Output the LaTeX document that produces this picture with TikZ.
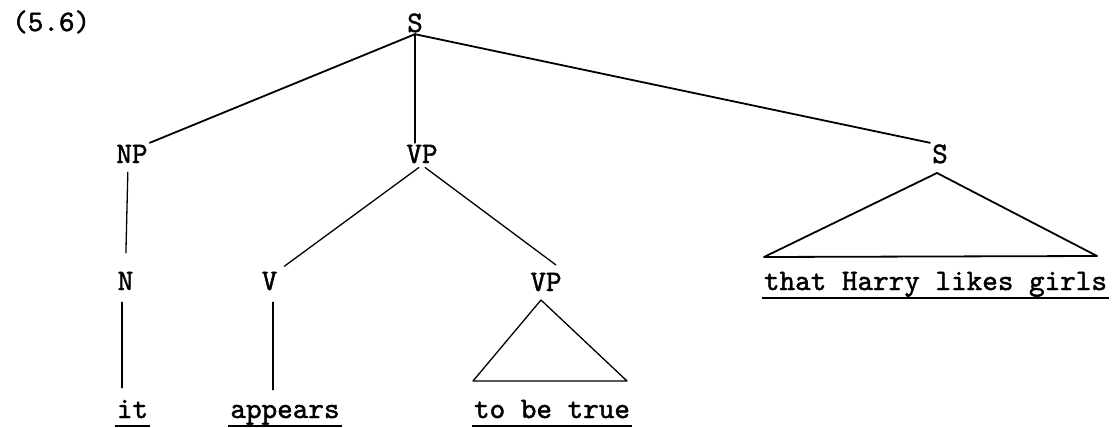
\documentclass[tikz,border=0pt]{standalone}
\usepackage{fontspec}
\newfontfamily\tw{lmmono10-regular.otf}[FakeBold=1.5]
\usetikzlibrary{calc}
\begin{document}
\begin{tikzpicture}[x=1pt,y=-1pt,
  lbl/.style={font=\tw\fontsize{29.7}{30}\selectfont, inner sep=2pt, text height=18pt, text depth=0pt, anchor=base},
  word/.style={lbl, inner ysep=0pt, text depth=8pt},
  br/.style={line width=1.8pt, line cap=round},
  thinln/.style={line width=1.3pt, line cap=round},
  ul/.style={line width=2.5pt}]
\useasboundingbox (0,0) rectangle (1112,428);
\node[lbl, anchor=base west] (num) at (10,31) {(5.6)};
\node[lbl] (S0) at (415,32) {S};
\node[lbl] (NP) at (132,163) {NP};
\node[lbl] (VP) at (422,163) {VP};
\node[lbl] (S1) at (940,163) {S};
\node[lbl] (N) at (125.5,290) {N};
\node[lbl] (V) at (269.5,290) {V};
\node[lbl] (VP2) at (546,291) {VP};
\node[word] (that) at (935.5,290) {that Harry likes girls};
\node[word] (it) at (132.5,418) {it};
\node[word] (app) at (285,418) {appears};
\node[word] (tbt) at (552,418) {to be true};
% branches
\draw[br] (S0.south) -- (NP.north east);
\draw[br] (S0.south) -- (S0.south |- VP.north);
\draw[br] (S0.south) -- (S1.north west);
\draw[thinln, shorten <=7pt, shorten >=17pt] ([xshift=-4pt]NP.south) -- (N.north);
\draw[thinln, shorten <=4pt, shorten >=6pt] (VP.south) -- (V.north east);
\draw[thinln, shorten <=4pt, shorten >=10pt] (VP.south) -- (VP2.north east);
\draw[thinln] ($(N.south)+(-3.5,10)$) -- ($(N.south |- it.north)+(-3.5,-12)$);
\draw[thinln] ($(V.south)+(3.5,10)$) -- ($(V.south |- app.north)+(3.5,-10)$);
% triangles
\coordinate (a2) at (541,300);
\coordinate (l2) at (473,381);
\coordinate (r2) at (627,381);
\draw[thinln, line join=round] (l2) -- (a2) -- (r2) -- cycle;
\coordinate (a1) at (937,173);
\coordinate (l1) at (764,257);
\coordinate (r1) at (1097,256);
\draw[br, line join=round] (l1) -- (a1) -- (r1) -- cycle;
% underlines
\draw[ul] (it.south west) -- (it.south east);
\draw[ul] (app.south west) -- (app.south east);
\draw[ul] (tbt.south west) -- (tbt.south east);
\draw[ul] (that.south west) -- (that.south east);
\end{tikzpicture}
\end{document}
